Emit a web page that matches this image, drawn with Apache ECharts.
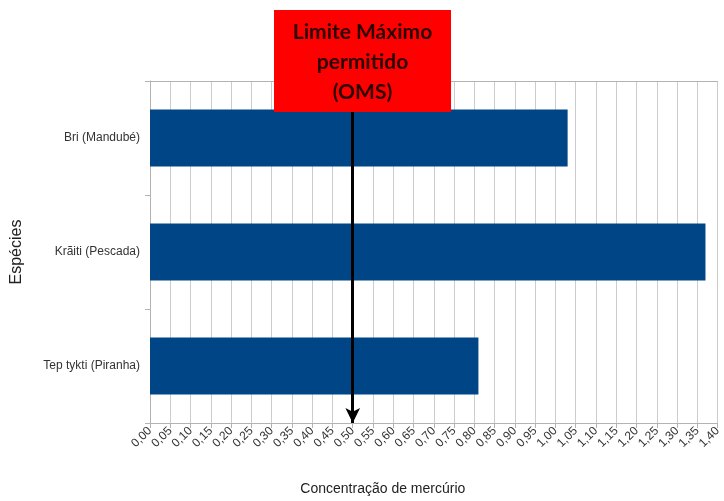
<!DOCTYPE html>
<html>
<head>
<meta charset="utf-8">
<script src="https://cdn.jsdelivr.net/npm/echarts@6/dist/echarts.min.js"></script>
<style>
  html, body { margin: 0; padding: 0; background: #ffffff; overflow: hidden; }
  #chart { width: 724px; height: 501px; }
</style>
</head>
<body>
<div id="chart"></div>
<script>
// Espécies de peixe, de cima para baixo
const especies = ['Bri (Mandubé)', 'Krãiti (Pescada)', 'Tep tykti (Piranha)'];
// Concentração de mercúrio medida em cada espécie
const concentracao = [1.03, 1.37, 0.81];
// Limite máximo permitido pela OMS
const limiteOMS = 0.5;
// Escala do eixo de concentração
const eixoMin = 0;
const eixoMax = 1.4;
const eixoPasso = 0.05;

const chart = echarts.init(document.getElementById('chart'), null, { renderer: 'canvas' });

const gridColor = '#cccccc';
const axisColor = '#b3b3b3';
const labelColor = '#333333';

chart.setOption({
  animation: false,
  backgroundColor: '#ffffff',
  grid: { left: 150, top: 81, width: 572, height: 348, containLabel: false },
  xAxis: [
    {
      type: 'value',
      min: eixoMin,
      max: eixoMax,
      interval: eixoPasso,
      position: 'bottom',
      name: 'Concentração de mercúrio',
      nameLocation: 'middle',
      nameGap: 59,
      nameTextStyle: {
        fontFamily: 'Liberation Sans',
        fontSize: 14,
        color: '#222222',
        padding: [0, 102, 0, 0]
      },
      axisLine: { show: true, lineStyle: { color: axisColor, width: 1 } },
      axisTick: { show: true, length: 5, lineStyle: { color: axisColor } },
      axisLabel: {
        rotate: 45,
        margin: 6,
        fontFamily: 'Liberation Sans',
        fontSize: 12,
        color: labelColor,
        formatter: v => v.toFixed(2).replace('.', ',')
      },
      splitLine: { show: true, lineStyle: { color: gridColor, width: 1 } }
    },
    {
      // linha superior da área do gráfico
      type: 'value',
      min: eixoMin,
      max: eixoMax,
      position: 'top',
      axisLine: { show: true, lineStyle: { color: axisColor, width: 1 } },
      axisTick: { show: false },
      axisLabel: { show: false },
      splitLine: { show: false }
    }
  ],
  yAxis: {
    type: 'category',
    data: especies,
    inverse: true,
    name: 'Espécies',
    nameLocation: 'middle',
    nameGap: 125,
    nameRotate: 90,
    nameTextStyle: {
      fontFamily: 'Liberation Sans',
      fontSize: 16,
      color: '#222222'
    },
    axisLine: { show: true, lineStyle: { color: axisColor, width: 1 } },
    axisTick: { show: true, length: 5, lineStyle: { color: axisColor } },
    axisLabel: {
      margin: 10,
      fontFamily: 'Liberation Sans',
      fontSize: 12,
      color: labelColor
    },
    splitLine: { show: false }
  },
  series: [
    {
      type: 'bar',
      xAxisIndex: 0,
      data: concentracao,
      barWidth: 57,
      itemStyle: { color: '#004586' },
      markLine: {
        silent: true,
        symbol: ['none', 'arrow'],
        symbolSize: [11, 15],
        label: { show: false },
        lineStyle: { color: '#000000', width: 3, type: 'solid' },
        data: [{ xAxis: limiteOMS }]
      },
      z: 2
    }
  ],
  graphic: [
    {
      type: 'rect',
      z: 100,
      shape: { x: 274, y: 10, width: 177, height: 102 },
      style: { fill: '#ff0000' }
    },
    {
      type: 'text',
      z: 101,
      x: 362.5,
      y: 62,
      style: {
        text: 'Limite Máximo\npermitido\n(OMS)',
        fontFamily: 'Lato',
        fontWeight: 'bold',
        fontSize: 21,
        lineHeight: 30,
        fill: '#2a0000',
        align: 'center',
        verticalAlign: 'middle'
      }
    }
  ]
});
</script>
</body>
</html>
